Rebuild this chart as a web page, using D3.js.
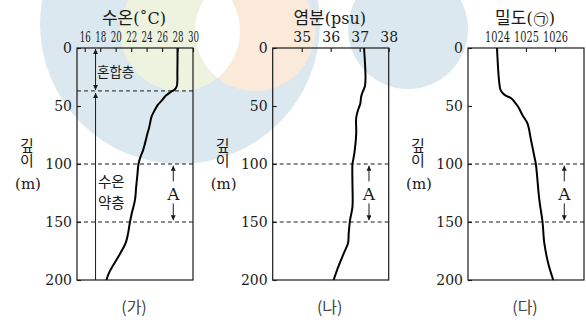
<!DOCTYPE html>
<html>
<head>
<meta charset="utf-8">
<script src="https://cdn.jsdelivr.net/npm/d3@7"></script>
<style>
  body { margin: 0; background: #fff; }
  svg { display: block; }
</style>
</head>
<body>
<script>
// ---- data ----
const depthTicks = [0, 50, 100, 150, 200];
const tempTicks = [16, 18, 20, 22, 24, 26, 28, 30];
const salTicks = [35, 36, 37, 38];
const densTicks = [1024, 1025, 1026];

// water temperature (°C) by depth (m)
const tempDepth = [0, 20, 33, 36, 38, 40, 42, 45, 49, 53, 59, 68, 74, 82, 88, 94, 100, 110, 120, 131, 142, 150, 160, 168, 177, 186, 193, 200];
const tempValue = [28.0, 27.98, 27.9, 27.6, 27.1, 26.7, 26.35, 26.0, 25.45, 25.1, 24.65, 24.35, 24.1, 23.8, 23.55, 23.2, 22.95, 22.8, 22.65, 22.5, 22.1, 21.85, 21.6, 21.3, 20.6, 19.8, 19.2, 18.8];

// salinity (psu) by depth (m)
const salDepth = [0, 25, 33, 38, 42, 48, 53, 60, 74, 88, 96, 100, 117, 137, 148, 160, 168, 177, 188, 200];
const salValue = [37.15, 37.2, 37.18, 37.1, 37.05, 37.02, 36.95, 36.88, 36.88, 36.83, 36.78, 36.75, 36.75, 36.75, 36.67, 36.62, 36.6, 36.45, 36.27, 36.1];

// density by depth (m)
const densDepth = [0, 28, 36, 39, 41, 43.5, 47, 51, 58, 65, 79, 95, 100, 131, 150, 168, 186, 200];
const densValue = [1024.0, 1024.07, 1024.12, 1024.2, 1024.3, 1024.5, 1024.62, 1024.74, 1024.88, 1025.05, 1025.17, 1025.3, 1025.34, 1025.46, 1025.57, 1025.63, 1025.77, 1025.94];

const mixedLayerDepth = 37;
const layerA = [100, 150];

// ---- layout ----
const W = 586, H = 320;
const PT = 48, PH = 232, PW = 116;
const serif = "'DejaVu Serif', serif";
const sans = "'Noto Sans CJK KR', 'Noto Sans', sans-serif";
const ink = "#1a1a1a";

const svg = d3.select("body").append("svg")
  .attr("width", W).attr("height", H)
  .attr("viewBox", `0 0 ${W} ${H}`);

// ---- background ornament ----
const defs = svg.append("defs");
defs.append("clipPath").attr("id", "greenClip")
  .append("circle").attr("cx", 180).attr("cy", 31).attr("r", 60);

const bg = svg.append("g");
bg.append("circle").attr("cx", 180).attr("cy", 24).attr("r", 140).attr("fill", "#dce8ef");
bg.append("circle").attr("cx", 180).attr("cy", 31).attr("r", 60).attr("fill", "#eef3e0");
bg.append("circle").attr("cx", 255).attr("cy", 31).attr("r", 60).attr("fill", "#fbe9da");
bg.append("circle").attr("cx", 255).attr("cy", 31).attr("r", 60).attr("fill", "#ffffff")
  .attr("clip-path", "url(#greenClip)");
bg.append("circle").attr("cx", 408).attr("cy", 29).attr("r", 60).attr("fill", "#dce8ef");

// arrowhead marker
defs.append("marker").attr("id", "arrow")
  .attr("viewBox", "0 0 10 10").attr("refX", 10).attr("refY", 5)
  .attr("markerWidth", 5).attr("markerHeight", 5).attr("markerUnits", "userSpaceOnUse")
  .attr("orient", "auto-start-reverse")
  .append("path").attr("d", "M0,0 L10,5 L0,10 Z").attr("fill", ink);

const y = d3.scaleLinear().domain([0, 200]).range([PT, PT + PH]);

function drawPanel(cfg) {
  const x = d3.scaleLinear().domain(cfg.domain).range([cfg.left, cfg.left + PW]);
  const g = svg.append("g");

  // top axis (ticks point inward)
  const xa = g.append("g").attr("transform", `translate(0,${PT})`)
    .call(d3.axisTop(x).tickValues(cfg.ticks).tickSize(-4).tickPadding(6).tickFormat(d3.format("d")));
  xa.select(".domain").remove();
  xa.selectAll("line").attr("stroke", ink).attr("stroke-width", 1.1);
  xa.selectAll("text").attr("font-family", serif).attr("font-size", 14).attr("fill", ink);
  if (cfg.tickSqueeze) {
    // condensed numerals for tightly spaced ticks
    xa.selectAll("text").attr("transform", `scale(${cfg.tickSqueeze},1)`);
  }

  // left axis (ticks point inward)
  const ya = g.append("g").attr("transform", `translate(${cfg.left},0)`)
    .call(d3.axisLeft(y).tickValues(depthTicks).tickSize(-4).tickPadding(5));
  ya.select(".domain").remove();
  ya.selectAll("line").attr("stroke", ink).attr("stroke-width", 1.1);
  ya.selectAll("text").attr("font-family", serif).attr("font-size", 14).attr("fill", ink);

  // dashed guide lines
  cfg.dashes.forEach(d => {
    g.append("line")
      .attr("x1", cfg.left).attr("x2", cfg.left + PW)
      .attr("y1", y(d)).attr("y2", y(d))
      .attr("stroke", ink).attr("stroke-width", 1).attr("stroke-dasharray", "4,3");
  });

  // frame
  g.append("rect").attr("x", cfg.left).attr("y", PT).attr("width", PW).attr("height", PH)
    .attr("fill", "none").attr("stroke", ink).attr("stroke-width", 1.2);

  // profile
  const pts = cfg.depth.map((d, i) => [cfg.values[i], d]);
  g.append("path").datum(pts)
    .attr("d", d3.line().x(p => x(p[0])).y(p => y(p[1])).curve(d3.curveCatmullRom.alpha(0.5)))
    .attr("fill", "none").attr("stroke", "#000").attr("stroke-width", 2)
    .attr("stroke-linejoin", "round");

  // layer A arrows
  const ax = cfg.left + PW * 0.83;
  g.append("line").attr("x1", ax).attr("x2", ax).attr("y1", y(115)).attr("y2", y(layerA[0] + 1.5))
    .attr("stroke", ink).attr("stroke-width", 1).attr("marker-end", "url(#arrow)");
  g.append("line").attr("x1", ax).attr("x2", ax).attr("y1", y(134)).attr("y2", y(layerA[1] - 1.5))
    .attr("stroke", ink).attr("stroke-width", 1).attr("marker-end", "url(#arrow)");
  g.append("text").attr("x", ax).attr("y", y(126) + 6)
    .attr("text-anchor", "middle").attr("font-family", serif).attr("font-size", 17)
    .attr("fill", ink).text("A");

  // title
  const cx = cfg.left + PW / 2 - 1;
  const t = g.append("text").attr("x", cx).attr("y", 24).attr("text-anchor", "middle")
    .attr("font-size", 17).attr("fill", ink);
  t.append("tspan").attr("font-family", sans).text(cfg.titleKo);
  t.append("tspan").attr("font-family", serif).attr("font-size", 16).text(cfg.titleUnit);

  // depth label: stacked "깊이" then "(m)"
  const lx = cfg.left - 50;
  g.append("text").attr("x", lx).attr("y", 138)
    .attr("writing-mode", "tb").attr("glyph-orientation-vertical", 0)
    .attr("font-family", sans).attr("font-size", 15).attr("fill", ink).text("깊이");
  g.append("text").attr("x", lx + 1).attr("y", 189).attr("text-anchor", "middle")
    .attr("font-family", serif).attr("font-size", 15).attr("fill", ink).text("(m)");

  // panel caption
  g.append("text").attr("x", cx).attr("y", 313).attr("text-anchor", "middle")
    .attr("font-family", sans).attr("font-size", 16).attr("fill", "#444").text(cfg.caption);

  return { x, g };
}

const p1 = drawPanel({
  left: 77, domain: [15, 30], ticks: tempTicks, tickSqueeze: 0.62,
  depth: tempDepth, values: tempValue, dashes: [mixedLayerDepth, ...layerA],
  titleKo: "수온", titleUnit: "(˚C)", caption: "(가)"
});

drawPanel({
  left: 272.7, domain: [34, 38], ticks: salTicks,
  depth: salDepth, values: salValue, dashes: layerA,
  titleKo: "염분", titleUnit: "(psu)", caption: "(나)"
});

drawPanel({
  left: 468, domain: [1023, 1027], ticks: densTicks, tickSqueeze: 0.7,
  depth: densDepth, values: densValue, dashes: layerA,
  titleKo: "밀도", titleUnit: "(㉠)", caption: "(다)"
});

// mixed layer / thermocline annotation in panel (가)
const arrowX = p1.x(17.4);
p1.g.append("line").attr("x1", arrowX).attr("x2", arrowX)
  .attr("y1", y(mixedLayerDepth) - 1).attr("y2", y(0) + 1)
  .attr("stroke", ink).attr("stroke-width", 1)
  .attr("marker-start", "url(#arrow)").attr("marker-end", "url(#arrow)");
p1.g.append("line").attr("x1", arrowX).attr("x2", arrowX)
  .attr("y1", y(200)).attr("y2", y(mixedLayerDepth) + 2)
  .attr("stroke", ink).attr("stroke-width", 1)
  .attr("marker-end", "url(#arrow)");
p1.g.append("text").attr("x", 97).attr("y", 77)
  .attr("font-family", sans).attr("font-size", 13.5).attr("fill", ink).text("혼합층");
p1.g.append("text").attr("x", 98).attr("y", 187)
  .attr("font-family", sans).attr("font-size", 14.5).attr("fill", ink).text("수온");
p1.g.append("text").attr("x", 98).attr("y", 207.5)
  .attr("font-family", sans).attr("font-size", 14.5).attr("fill", ink).text("약층");
</script>
</body>
</html>
